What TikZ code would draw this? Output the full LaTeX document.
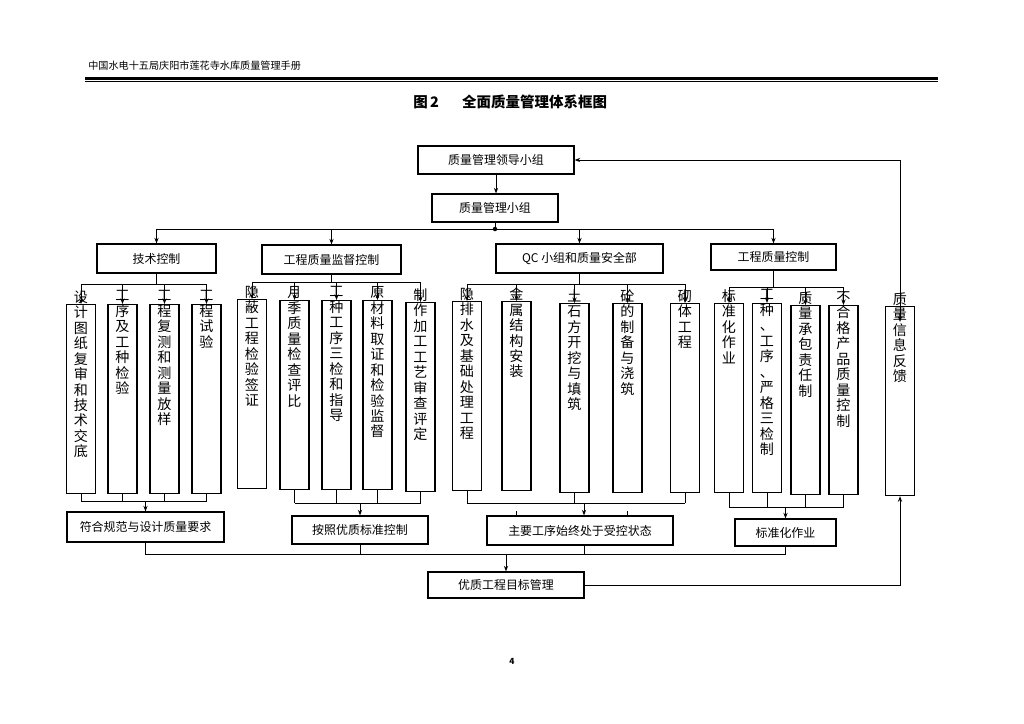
\documentclass[tikz,border=0pt]{standalone}
\usepackage{fontspec}
\setmainfont{Noto Sans CJK SC}
\usetikzlibrary{arrows.meta}

\tikzset{
  box/.style={draw, line width=0.8pt, inner sep=0pt, font=\fontsize{8.5}{10}\selectfont},
  vbox/.style={draw, line width=0.8pt, minimum width=0.725cm, minimum height=4.725cm, anchor=north, inner sep=0pt},
  vlab/.style={anchor=north, yshift=0.34cm, inner sep=0pt, align=center, font=\fontsize{10}{11}\selectfont},
  conn/.style={line width=0.7pt},
}

\begin{document}
\begin{tikzpicture}[x=0.025cm, y=-0.025cm, >={Stealth[length=4pt,width=3pt]}]
  \fill[white] (0,0) rectangle (1024,723);

  % Kopfzeile und Titel
  \node[anchor=west, inner sep=0pt, font=\fontsize{7.2}{8}\selectfont] (hdr) at (88,66) {中国水电十五局庆阳市莲花寺水库质量管理手册};
  \draw[line width=1.6pt] (85,78.5) -- (938,78.5);
  \draw[line width=0.5pt] (85,81.8) -- (938,81.8);
  \node[anchor=west, inner sep=0pt, font=\bfseries\fontsize{10.3}{12}\selectfont] (ttl) at (413,102) {图\,2\hspace{1.6em}全面质量管理体系框图};

  % Leitung
  \node[box, minimum width=3.9cm, minimum height=0.7cm] (lead) at (496,160) {质量管理领导小组};
  \node[box, minimum width=3.15cm, minimum height=0.7cm] (team) at (495,208) {质量管理小组};
  \draw[conn,->] (lead.south) -- (lead.south |- team.north);

  % vier Bereiche
  \node[box, minimum width=2.975cm, minimum height=0.725cm] (h1) at (156.5,258.5) {技术控制};
  \node[box, minimum width=3.475cm, minimum height=0.725cm] (h2) at (331.5,259.5) {工程质量监督控制};
  \node[box, minimum width=4.175cm, minimum height=0.725cm] (h3) at (579.5,258.5) {QC 小组和质量安全部};
  \node[box, minimum width=3.125cm, minimum height=0.65cm] (h4) at (773.5,257) {工程质量控制};

  \coordinate (bus) at (497,229);
  \draw[conn] (team.south) -- (team.south |- bus);
  \fill (team.south |- bus) circle (1.6pt);
  \draw[conn] (h1.north |- bus) -- (h4.north |- bus);
  \foreach \n in {h1,h2,h3,h4}
    \draw[conn,->] (\n.north |- bus) -- (\n.north);

  % Spalten
  \node[vbox] (a1) at (81,304) {};
  \node[vbox] (a2) at (122.5,304) {};
  \node[vbox] (a3) at (164.5,304) {};
  \node[vbox] (a4) at (206.5,304) {};
  \node[vbox] (b1) at (252,299) {};
  \node[vbox] (b2) at (294.5,300) {};
  \node[vbox] (b3) at (336.5,300) {};
  \node[vbox] (b4) at (377.5,300) {};
  \node[vbox] (b5) at (420.5,302) {};
  \node[vbox] (c1) at (467,301) {};
  \node[vbox] (c2) at (516.5,301) {};
  \node[vbox] (c3) at (574.5,303) {};
  \node[vbox] (c4) at (627.5,303) {};
  \node[vbox] (c5) at (685,303) {};
  \node[vbox] (d1) at (729,303) {};
  \node[vbox] (d2) at (767,303) {};
  \node[vbox] (d3) at (805.5,305) {};
  \node[vbox] (d4) at (843.5,305) {};
  \node[vbox] (fb) at (900,306) {};

  \node[vlab] (a1t) at (a1.north) {设\\计\\图\\纸\\复\\审\\和\\技\\术\\交\\底};
  \node[vlab] (a2t) at (a2.north) {工\\序\\及\\工\\种\\检\\验};
  \node[vlab] (a3t) at (a3.north) {工\\程\\复\\测\\和\\测\\量\\放\\样};
  \node[vlab] (a4t) at (a4.north) {工\\程\\试\\验};
  \node[vlab] (b1t) at (b1.north) {隐\\蔽\\工\\程\\检\\验\\签\\证};
  \node[vlab] (b2t) at (b2.north) {月\\季\\质\\量\\检\\查\\评\\比};
  \node[vlab] (b3t) at (b3.north) {工\\种\\工\\序\\三\\检\\和\\指\\导};
  \node[vlab] (b4t) at (b4.north) {原\\材\\料\\取\\证\\和\\检\\验\\监\\督};
  \node[vlab] (b5t) at (b5.north) {制\\作\\加\\工\\工\\艺\\审\\查\\评\\定};
  \node[vlab] (c1t) at (c1.north) {隐\\排\\水\\及\\基\\础\\处\\理\\工\\程};
  \node[vlab] (c2t) at (c2.north) {金\\属\\结\\构\\安\\装};
  \node[vlab] (c3t) at (c3.north) {土\\石\\方\\开\\挖\\与\\填\\筑};
  \node[vlab] (c4t) at (c4.north) {砼\\的\\制\\备\\与\\浇\\筑};
  \node[vlab] (c5t) at (c5.north) {砌\\体\\工\\程};
  \node[vlab] (d1t) at (d1.north) {标\\准\\化\\作\\业};
  \node[vlab] (d2t) at (d2.north) {工\\种\\、\\工\\序\\、\\严\\格\\三\\检\\制};
  \node[vlab] (d3t) at (d3.north) {质\\量\\承\\包\\责\\任\\制};
  \node[vlab] (d4t) at (d4.north) {不\\合\\格\\产\\品\\质\\量\\控\\制};
  \node[vlab] (fbt) at (fb.north) {质\\量\\信\\息\\反\\馈};

  % Verteiler oben
  \coordinate (s1) at (0,284);
  \coordinate (s2) at (0,282);
  \coordinate (s3) at (0,284);
  \coordinate (s4) at (0,287);
  \draw[conn] (h1.south) -- (h1.south |- s1);
  \draw[conn] (h2.south) -- (h2.south |- s2);
  \draw[conn] (h3.south) -- (h3.south |- s3);
  \draw[conn] (h4.south) -- (h4.south |- s4);
  \draw[conn] (a1.north |- s1) -- (a4.north |- s1);
  \draw[conn] (b1.north |- s2) -- (b5.north |- s2);
  \draw[conn] (c1.north |- s3) -- (c5.north |- s3);
  \draw[conn] (d1.north |- s4) -- (d4.north |- s4);
  \foreach \n in {a1,a2,a3,a4}
    \draw[conn,->] (\n.north |- s1) -- (\n.north);
  \foreach \n in {b1,b2,b3,b4,b5}
    \draw[conn,->] (\n.north |- s2) -- (\n.north);
  \foreach \n in {c1,c2,c3,c4,c5}
    \draw[conn,->] (\n.north |- s3) -- (\n.north);
  \foreach \n in {d1,d2,d3,d4}
    \draw[conn,->] (\n.north |- s4) -- (\n.north);

  % Ergebnisse
  \node[box, minimum width=3.925cm, minimum height=0.75cm] (r1) at (145.5,527) {符合规范与设计质量要求};
  \node[box, minimum width=3.4cm, minimum height=0.7cm] (r2) at (360,530) {按照优质标准控制};
  \node[box, minimum width=4.65cm, minimum height=0.725cm] (r3) at (580,530.5) {主要工序始终处于受控状态};
  \node[box, minimum width=2.525cm, minimum height=0.675cm] (r4) at (785.5,532.5) {标准化作业};
  \node[box, minimum width=3.9cm, minimum height=0.65cm] (goal) at (506,585) {优质工程目标管理};

  % Verteiler unten
  \coordinate (t1) at (0,501);
  \coordinate (t2) at (0,503);
  \coordinate (t3) at (0,503);
  \coordinate (t4) at (0,507);
  \foreach \n in {a1,a2,a3,a4}
    \draw[conn] (\n.south) -- (\n.south |- t1);
  \foreach \n in {b2,b3,b4,b5}
    \draw[conn] (\n.south) -- (\n.south |- t2);
  \foreach \n in {c1,c3,c5}
    \draw[conn] (\n.south) -- (\n.south |- t3);
  \foreach \n in {d1,d2,d3,d4}
    \draw[conn] (\n.south) -- (\n.south |- t4);
  \draw[conn] (a1.south |- t1) -- (a4.south |- t1);
  \draw[conn] (b2.south |- t2) -- (b5.south |- t2);
  \draw[conn] (c1.south |- t3) -- (c5.south |- t3);
  \draw[conn] (d1.south |- t4) -- (d4.south |- t4);
  \draw[conn,->] (r1.north |- t1) -- (r1.north);
  \draw[conn,->] (r2.north |- t2) -- (r2.north);
  \draw[conn,->] ([xshift=0.1cm]r3.north |- t3) -- ([xshift=0.1cm]r3.north);
  \draw[conn,->] (r4.north |- t4) -- (r4.north);
  \draw[conn] (c2.south |- r3.north) -- ++(0,-4);
  \draw[conn] (c4.south |- r3.north) -- ++(0,-4);

  \coordinate (t5) at (0,554);
  \draw[conn] (r1.south) |- (r4.south |- t5) -- (r4.south);
  \draw[conn] (r2.south) -- (r2.south |- t5);
  \draw[conn] ([xshift=0.1cm]r3.south) -- ([xshift=0.1cm]r3.south |- t5);
  \draw[conn,->] (goal.north |- t5) -- (goal.north);

  % Rueckmeldung
  \draw[conn,->] (goal.east) -| (fb.south);
  \draw[conn,<->] ([yshift=-0.4cm]fb.north) |- (lead.east);

  \node[inner sep=0pt, font=\bfseries\fontsize{6}{7}\selectfont] (pg) at (512,661) {4};
\end{tikzpicture}
\end{document}
